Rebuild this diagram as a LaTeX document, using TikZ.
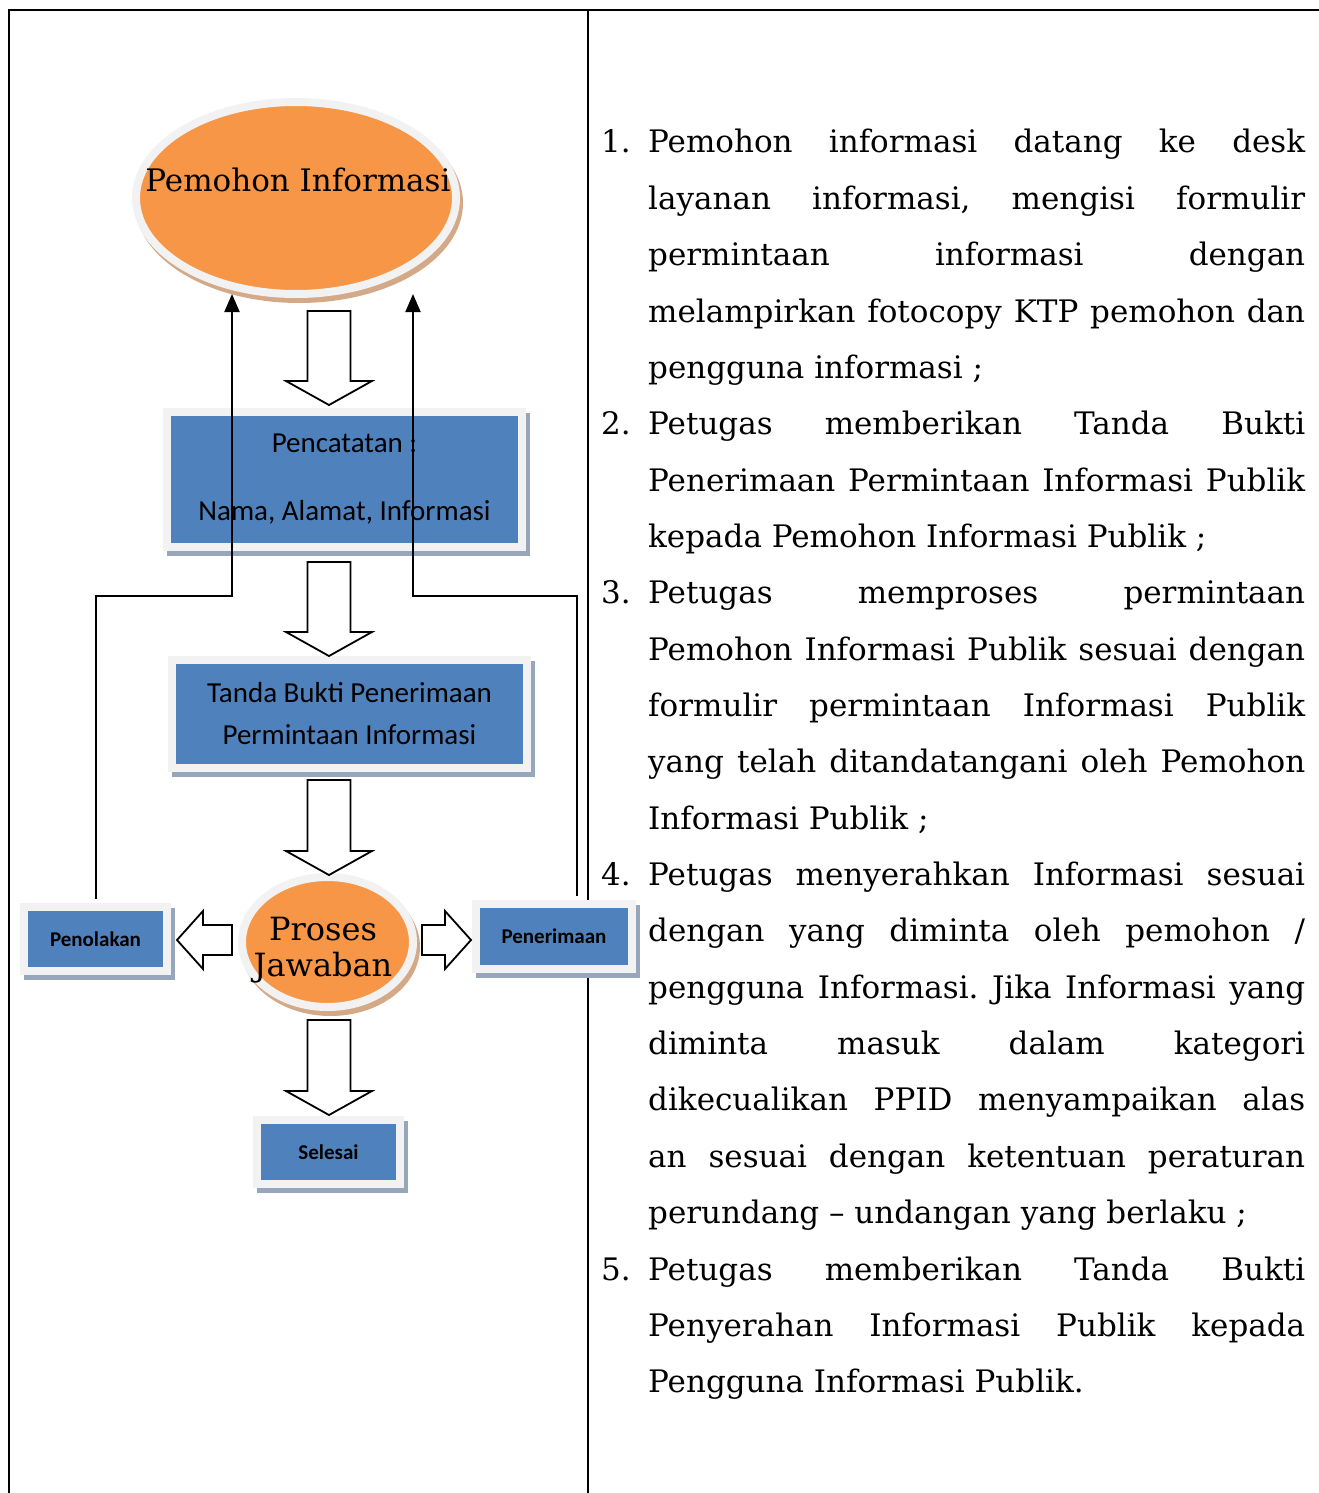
\documentclass[tikz,border=0pt]{standalone}
\usepackage{fontspec}
\setmainfont{DejaVu Serif}
\newfontfamily\calib{Carlito}
\usetikzlibrary{arrows.meta,calc,shapes.geometric}
\definecolor{boxblue}{HTML}{4F81BD}
\definecolor{orng}{HTML}{F79646}
\definecolor{frm}{HTML}{F2F2F2}
\definecolor{bshadow}{HTML}{97A6BA}
\definecolor{eshadow}{HTML}{D4A987}
\newcommand{\jl}[1]{\makebox[657pt][s]{#1}}
\begin{document}
\frenchspacing
\begin{tikzpicture}[x=1pt,y=-1pt,
 bluebox/.style={rectangle, fill=boxblue, draw=frm, line width=8pt, inner sep=0pt, align=center,
   font=\calib\fontsize{29}{34}\selectfont,
   preaction={fill=bshadow, draw=bshadow, line width=8pt, transform canvas={shift={(4pt,-5pt)}}}},
 smallbox/.style={bluebox, font=\calib\bfseries\fontsize{21}{25}\selectfont},
 orel/.style={ellipse, fill=orng, draw=frm, line width=8pt, inner sep=0pt,
   preaction={fill=eshadow, draw=eshadow, line width=8pt, transform canvas={shift={(3pt,-5pt)}}}},
 eltext/.style={inner sep=0pt, align=center, font=\fontsize{31}{36}\selectfont},
 barrow/.style={draw=black, fill=white, line width=1.8pt, line join=miter},
 fb/.style={draw=black, line width=2pt, -{Triangle[length=18pt,width=15pt]}},
 tline/.style={draw=black, line width=2pt},
 txt/.style={anchor=base west, inner sep=0pt, font=\fontsize{31}{36}\selectfont},
 num/.style={anchor=base west, inner sep=0pt, font=\fontsize{31}{36}\selectfont},
 pics/darr/.style={code={\draw[barrow] (-21.5,0) -- (21.5,0) -- (21.5,#1-24) -- (43,#1-24) -- (0,#1) -- (-43,#1-24) -- (-21.5,#1-24) -- cycle;}},
 pics/rarr/.style={code={\draw[barrow] (0,-15) -- (#1-26,-15) -- (#1-26,-29) -- (#1,0) -- (#1-26,29) -- (#1-26,15) -- (0,15) -- cycle;}}
]
\useasboundingbox (0,0) rectangle (1319,1493);
% table lines
\coordinate (tl) at (9,10);
\coordinate (tr) at (1319,10);
\coordinate (bl) at (9,1493);
\coordinate (dt) at (588,10);
\coordinate (db) at (588,1493);
\draw[tline] (bl) -- (tl) -- (tr);
\draw[tline] (dt) -- (db);

% ellipses
\node[orel, minimum width=320pt, minimum height=192pt] (pi) at (296,198) {};
\node[eltext] (pitext) at (298,180) {Pemohon Informasi};

\node[orel, minimum width=171pt, minimum height=130pt] (pj) at (327.5,942) {};
\node[eltext, font=\fontsize{32}{36}\selectfont] (pjtext) at (323,950) {Proses\\Jawaban};

% boxes
\node[bluebox, minimum width=355pt, minimum height=135pt] (pc) at (344.5,479.5) {Pencatatan :\\[34pt]Nama, Alamat, Informasi};
\node[bluebox, minimum width=355pt, minimum height=108pt, font=\calib\fontsize{29}{42}\selectfont] (tb) at (349.5,714) {Tanda Bukti Penerimaan\\Permintaan Informasi};
\node[smallbox, minimum width=143pt, minimum height=64pt] (pn) at (95.5,939) {Penolakan};
\node[smallbox, minimum width=156pt, minimum height=65pt] (pe) at (554,936.5) {Penerimaan};
\node[smallbox, minimum width=143pt, minimum height=64pt] (se) at (328.5,1152) {Selesai};

% block arrows
\pic at (329,311) {darr=94};
\pic at (329,562) {darr=94};
\pic at (329,780) {darr=95};
\pic at (329,1020) {darr=95};
\pic at (422,940) {rarr=49};
\pic[xscale=-1] at (232,940) {rarr=55};

% feedback connectors
\coordinate (lcorner) at (232,596);
\coordinate (ltip) at (232,294);
\coordinate (rcorner) at (413,596);
\coordinate (rtip) at (413,294);
\draw[fb] ([yshift=4pt]pn.north) |- (lcorner) -- (ltip);
\draw[fb] ([xshift=23pt,yshift=4pt]pe.north) |- (rcorner) -- (rtip);

% right column text
\node[num] (n1) at (601,153) {1.};
\node[txt] (l1) at (648,153) {\jl{Pemohon informasi datang ke desk}};
\node[txt] (l2) at (648,209.35) {\jl{layanan informasi, mengisi formulir}};
\node[txt] (l3) at (648,265.7) {\jl{permintaan informasi dengan}};
\node[txt] (l4) at (648,322.05) {\jl{melampirkan fotocopy KTP pemohon dan}};
\node[txt] (l5) at (648,378.4) {pengguna informasi ;};
\node[num] (n2) at (601,434.75) {2.};
\node[txt] (l6) at (648,434.75) {\jl{Petugas memberikan Tanda Bukti}};
\node[txt] (l7) at (648,491.1) {\jl{Penerimaan Permintaan Informasi Publik}};
\node[txt] (l8) at (648,547.45) {kepada Pemohon Informasi Publik ;};
\node[num] (n3) at (601,603.8) {3.};
\node[txt] (l9) at (648,603.8) {\jl{Petugas memproses permintaan}};
\node[txt] (l10) at (648,660.15) {\jl{Pemohon Informasi Publik sesuai dengan}};
\node[txt] (l11) at (648,716.5) {\jl{formulir permintaan Informasi Publik}};
\node[txt] (l12) at (648,772.85) {\jl{yang telah ditandatangani oleh Pemohon}};
\node[txt] (l13) at (648,829.2) {Informasi Publik ;};
\node[num] (n4) at (601,885.55) {4.};
\node[txt] (l14) at (648,885.55) {\jl{Petugas menyerahkan Informasi sesuai}};
\node[txt] (l15) at (648,941.9) {\jl{dengan yang diminta oleh pemohon /}};
\node[txt] (l16) at (648,998.25) {\jl{pengguna Informasi. Jika Informasi yang}};
\node[txt] (l17) at (648,1054.6) {\jl{diminta masuk dalam kategori}};
\node[txt] (l18) at (648,1110.95) {\jl{dikecualikan PPID menyampaikan alas}};
\node[txt] (l19) at (648,1167.3) {\jl{an sesuai dengan ketentuan peraturan}};
\node[txt] (l20) at (648,1223.65) {perundang – undangan yang berlaku ;};
\node[num] (n5) at (601,1280) {5.};
\node[txt] (l21) at (648,1280) {\jl{Petugas memberikan Tanda Bukti}};
\node[txt] (l22) at (648,1336.35) {\jl{Penyerahan Informasi Publik kepada}};
\node[txt] (l23) at (648,1392.7) {Pengguna Informasi Publik.};
\end{tikzpicture}
\end{document}
